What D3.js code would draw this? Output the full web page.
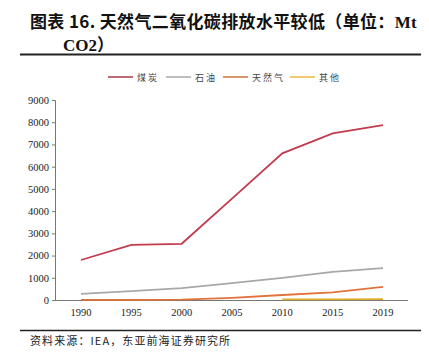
<!DOCTYPE html>
<html><head><meta charset="utf-8">
<script src="https://cdn.jsdelivr.net/npm/d3@7"></script>
<style>body{margin:0;background:#fff;} svg{display:block;}</style>
</head><body>
<svg id="c" width="429" height="357"></svg>
<script>
const years = ["1990","1995","2000","2005","2010","2015","2019"];
const seriesNames = ["煤炭","石油","天然气","其他"];
const coal  = [1800, 2480, 2530, 4560, 6600, 7500, 7870];
const oil   = [280, 400, 530, 760, 1000, 1270, 1430];
const gas   = [10, 10, 20, 100, 225, 340, 590];
const other = [null, null, null, null, 25, 30, 35];
const yTicks = [0,1000,2000,3000,4000,5000,6000,7000,8000,9000];
const colors = ["#c23b4e","#a8a8a8","#e0723a","#dcae2a"];
const legendColors = ["#a33a46","#a8a8a8","#c8743e","#e8b840"];

const svg = d3.select("#c");
const serif = "'Liberation Serif','Times New Roman',serif";
const cjk = "'Noto Sans CJK SC',sans-serif";

// Title
const t = svg.append("text").attr("x",30).attr("y",28).attr("font-family",cjk)
  .attr("font-weight","bold").attr("font-size",17).attr("fill","#111").attr("letter-spacing",0.35);
t.append("tspan").text("图表 16. 天然气二氧化碳排放水平较低（单位：");
t.append("tspan").attr("font-family",serif).text("Mt");
const t2 = svg.append("text").attr("x",63).attr("y",51).attr("font-family",cjk)
  .attr("font-weight","bold").attr("font-size",17).attr("fill","#111");
t2.append("tspan").attr("font-family",serif).text("CO2");
t2.append("tspan").text("）");

svg.append("line").attr("x1",20).attr("x2",421).attr("y1",54.5).attr("y2",54.5)
  .attr("stroke","#222").attr("stroke-width",2);

// Scales
const x = d3.scalePoint().domain(years).range([81,383]);
const y = d3.scaleLinear().domain([0,9000]).range([300,100]);

// Y axis
const ya = svg.append("g").attr("transform","translate(55,0)")
  .call(d3.axisLeft(y).tickValues(yTicks).tickSize(3).tickFormat(d3.format("d")));
ya.select(".domain").attr("stroke","#777");
ya.selectAll(".tick line").attr("stroke","#777");
ya.selectAll("text").attr("font-family",serif).attr("font-size",10.5).attr("fill","#222");

// X axis
svg.append("line").attr("x1",55).attr("x2",408).attr("y1",300.5).attr("y2",300.5).attr("stroke","#777");
svg.append("g").selectAll("text").data(years).join("text")
  .attr("x",d=>x(d)).attr("y",316).attr("text-anchor","middle")
  .attr("font-family",serif).attr("font-size",10.5).attr("fill","#222").text(d=>d);

// Lines
const data = [coal, oil, gas, other];
const line = d3.line().defined(d=>d[1]!=null).x(d=>x(d[0])).y(d=>y(d[1]));
[other, gas, oil, coal].forEach(arr=>{
  const i = data.indexOf(arr);
  svg.append("path").datum(years.map((yr,k)=>[yr,arr[k]]))
    .attr("d",line).attr("fill","none").attr("stroke",colors[i]).attr("stroke-width",1.8);
});

// Legend
const lx = [108,166,223,290];
seriesNames.forEach((n,i)=>{
  svg.append("line").attr("x1",lx[i]).attr("x2",lx[i]+25).attr("y1",77).attr("y2",77)
    .attr("stroke",legendColors[i]).attr("stroke-width",1.5);
  svg.append("text").attr("x",lx[i]+29).attr("y",80.5).attr("font-family",cjk)
    .attr("font-size",9).attr("letter-spacing",2).attr("fill","#444").text(n);
});

// Bottom
svg.append("line").attr("x1",20).attr("x2",421).attr("y1",330.5).attr("y2",330.5)
  .attr("stroke","#222").attr("stroke-width",1.5);
svg.append("text").attr("x",30).attr("y",345).attr("font-family","'Noto Sans CJK SC',serif")
  .attr("font-size",11).attr("letter-spacing",1.1).attr("fill","#222").text("资料来源：IEA，东亚前海证券研究所");
</script>
</body></html>
